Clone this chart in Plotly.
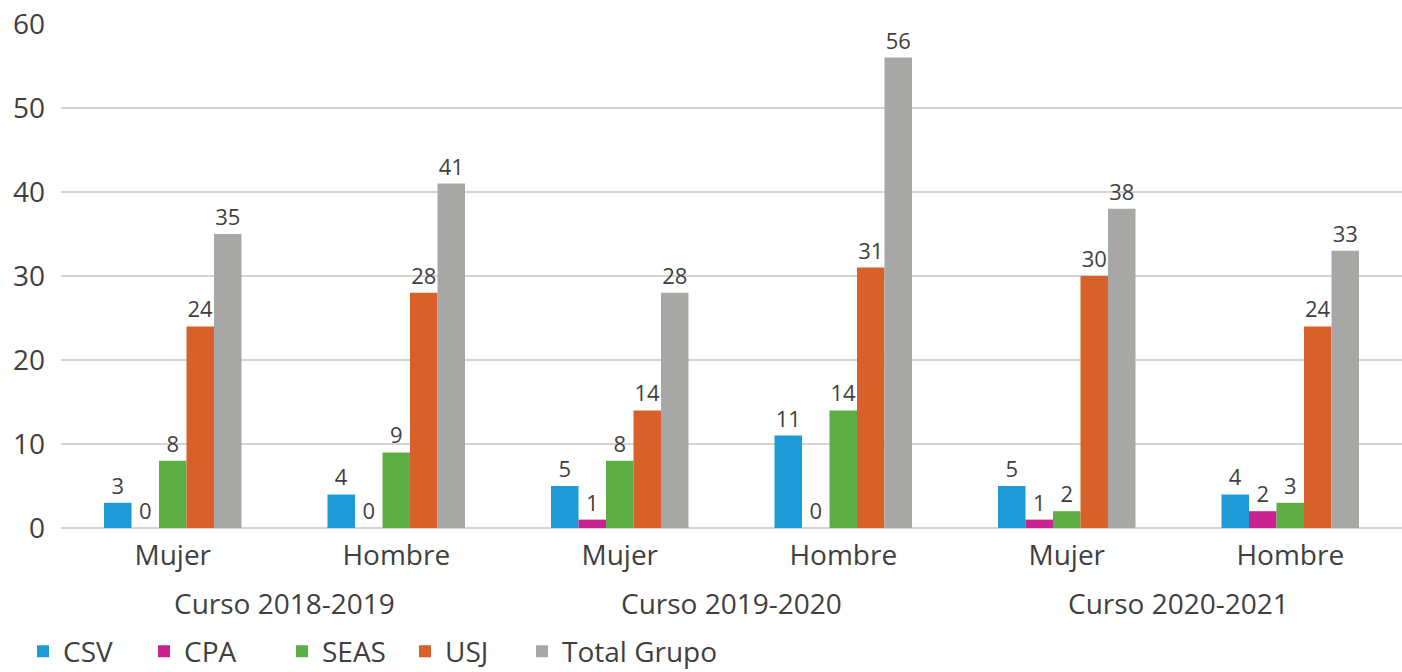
import plotly.graph_objects as go

x_idx = [0, 1, 2, 3, 4, 5]
tick_labels = ["Mujer", "Hombre", "Mujer", "Hombre", "Mujer", "Hombre"]
cursos = ["Curso 2018-2019", "Curso 2019-2020", "Curso 2020-2021"]

csv = [3, 4, 5, 11, 5, 4]
cpa = [0, 0, 1, 0, 1, 2]
seas = [8, 9, 8, 14, 2, 3]
usj = [24, 28, 14, 31, 30, 24]
total = [35, 41, 28, 56, 38, 33]

series = [
    ("CSV", csv, "#1e9bd7"),
    ("CPA", cpa, "#c8238f"),
    ("SEAS", seas, "#5cae45"),
    ("USJ", usj, "#d8612a"),
    ("Total Grupo", total, "#a7a7a5"),
]
legend_left_px = [38, 159, 297, 420, 537]

FONT = "Open Sans"
TXT = "#3f3f3f"

fig = go.Figure()
legend_ids = ["legend", "legend2", "legend3", "legend4", "legend5"]
for (name, vals, col), lid in zip(series, legend_ids):
    fig.add_trace(go.Bar(
        x=x_idx, y=vals, name=name, marker_color=col, marker_line_width=0,
        text=[str(v) for v in vals], textposition="outside",
        textfont=dict(family=FONT, size=22, color=TXT),
        cliponaxis=False, legend=lid,
    ))

layout_legends = {}
for lid, px in zip(legend_ids, legend_left_px):
    layout_legends[lid] = dict(
        orientation="h", xref="container", yref="paper",
        x=(px - 15) / 1402, y=-0.245, xanchor="left", yanchor="middle",
        font=dict(size=28, family=FONT, color=TXT),
        bgcolor="rgba(0,0,0,0)",
    )

fig.update_layout(
    barmode="group", bargap=0.385, bargroupgap=0.0,
    width=1402, height=672,
    margin=dict(l=61, r=0, t=24, b=144, autoexpand=False),
    paper_bgcolor="white", plot_bgcolor="white",
    font=dict(family=FONT, color=TXT, size=28),
    showlegend=True,
    uniformtext=dict(mode=False),
    **layout_legends,
)
fig.update_xaxes(
    tickmode="array", tickvals=x_idx, ticktext=tick_labels,
    range=[-0.5, 5.5], showgrid=False, zeroline=False, showline=False,
    ticks="", ticklabelstandoff=8,
    tickfont=dict(size=28, family=FONT, color=TXT),
)
fig.update_yaxes(
    range=[0, 60], tickvals=[0, 10, 20, 30, 40, 50, 60],
    showgrid=True, gridcolor="#d8d3d3", gridwidth=2,
    zeroline=True, zerolinecolor="#d8d3d3", zerolinewidth=2,
    showline=False, ticks="", ticklabelstandoff=15,
    tickfont=dict(size=28, family=FONT, color=TXT),
)
for i, c in enumerate(cursos):
    fig.add_annotation(
        x=2 * i + 0.5, y=0, xref="x", yref="paper", yshift=-75,
        text=c, showarrow=False, yanchor="middle",
        font=dict(size=28, family=FONT, color=TXT),
    )

fig.write_html("out.html", config={"displayModeBar": False},
               post_script="document.body.style.margin='0';")
